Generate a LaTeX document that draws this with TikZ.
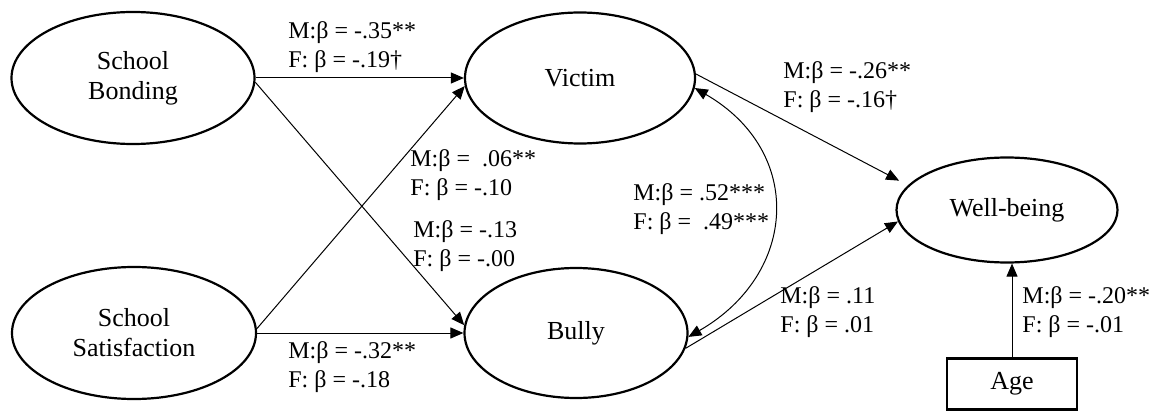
\documentclass[tikz,border=0pt]{standalone}
\usepackage{fontspec}
\setmainfont{Liberation Serif}
\usetikzlibrary{shapes.geometric,arrows.meta}

\tikzset{
 latent/.style={ellipse, draw, line width=1.1pt, inner sep=0pt, align=center,
   font=\fontsize{13}{15}\selectfont},
 observed/.style={rectangle, draw, line width=1.1pt, inner sep=0pt,
   font=\fontsize{13}{15}\selectfont},
 regpath/.style={line width=0.5pt, -{Triangle[length=6.5pt,width=5.5pt]}},
 covpath/.style={line width=0.5pt, {Triangle[length=6.5pt,width=5.5pt]}-{Triangle[length=6.5pt,width=5.5pt]}},
 coef/.style={anchor=west, align=left, inner sep=0pt,
   font=\fontsize{12}{14.5}\selectfont}
}

\begin{document}
\begin{tikzpicture}[x=0.5pt,y=-0.5pt]
\useasboundingbox (0,0) rectangle (1150,411);
%%%%%variables
\node[latent, minimum width=121.5pt, minimum height=66pt] (sb) at (133,78) {School\\Bonding};
\node[latent, minimum width=122pt, minimum height=66pt] (ss) at (134,333) {School\\Satisfaction};
\node[latent, minimum width=115pt, minimum height=65.5pt] (vic) at (580,78) {Victim};
\node[latent, minimum width=111.5pt, minimum height=65pt] (bul) at (576,333) {Bully};
\node[latent, minimum width=110.5pt, minimum height=52.5pt] (wb) at (1007,210) {Well-being};
\node[observed, minimum width=65pt, minimum height=25.5pt] (age) at (1012,384) {Age};

%%%%%paths
\draw[regpath] (sb.east) -- (vic.west);
\draw[regpath] (sb.358) -- (bul.176);
\draw[regpath] (ss.2) -- (vic.184);
\draw[regpath] (ss.east) -- (bul.west);
\draw[regpath, shorten >=5pt] (vic.2) -- (wb.166);
\draw[regpath] (bul.352) -- (wb.186);
\draw[regpath] (age.north) -- (age.north |- wb.south);
\draw[covpath] (vic.355) to[out=-30, in=30, looseness=1.3] (bul.358);

%%%%%coefficients
\node[coef] (c1) at (288,47) {M:β = -.35**\\F: β = -.19†};
\node[coef] (c2) at (410,175) {M:β = \ .06**\\F: β = -.10};
\node[coef] (c3) at (413,246) {M:β = -.13\\F: β = -.00};
\node[coef] (c4) at (288,367) {M:β = -.32**\\F: β = -.18};
\node[coef] (c5) at (633,209) {M:β = .52***\\F: β = \ .49***};
\node[coef] (c6) at (783,87) {M:β = -.26**\\F: β = -.16†};
\node[coef] (c7) at (780,312) {M:β = .11\\F: β = .01};
\node[coef] (c8) at (1022,312) {M:β = -.20**\\F: β = -.01};
\end{tikzpicture}
\end{document}
